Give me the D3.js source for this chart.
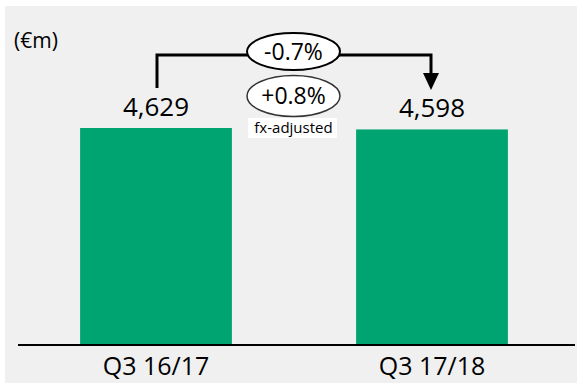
<!DOCTYPE html>
<html>
<head>
<meta charset="utf-8">
<script src="https://cdn.jsdelivr.net/npm/d3@7"></script>
<style>
  body { margin: 0; background: #fff; }
  text { font-family: "Open Sans", sans-serif; fill: #000; }
</style>
</head>
<body>
<div id="chart"></div>
<script>
// data
var categories = ["Q3 16/17", "Q3 17/18"];
var values = [4629, 4598];
var valueLabels = ["4,629", "4,598"];
var changeLabels = ["-0.7%", "+0.8%"];
var unitLabel = "(€m)";
var noteLabel = "fx-adjusted";

var width = 577, height = 383;
var svg = d3.select("#chart").append("svg")
    .attr("width", width)
    .attr("height", height);

// grey panel
svg.append("rect")
    .attr("x", 5).attr("y", 6)
    .attr("width", width - 5).attr("height", height - 6)
    .style("fill", "#f0f0f0");

var baseY = 344;
var x = d3.scaleBand()
    .domain(categories)
    .range([18, 570])
    .paddingInner(0.45)
    .paddingOuter(0.225);

var y = d3.scaleLinear()
    .domain([0, 4629])
    .range([baseY, 128]);

// bars
svg.append("g")
    .selectAll("rect")
    .data(values)
    .enter().append("rect")
    .attr("x", (d, i) => x(categories[i]))
    .attr("y", d => y(d))
    .attr("width", x.bandwidth())
    .attr("height", d => baseY - y(d))
    .style("fill", "#00a470");

// baseline
svg.append("line")
    .attr("x1", 18).attr("x2", 575)
    .attr("y1", baseY + 1).attr("y2", baseY + 1)
    .style("stroke", "#000")
    .style("stroke-width", 2);

// value labels
svg.append("g")
    .selectAll("text")
    .data(values)
    .enter().append("text")
    .attr("x", (d, i) => x(categories[i]) + x.bandwidth() / 2)
    .attr("y", d => y(d) - 12)
    .attr("text-anchor", "middle")
    .style("font-size", "26px")
    .text((d, i) => valueLabels[i]);

// category labels
svg.append("g")
    .selectAll("text")
    .data(categories)
    .enter().append("text")
    .attr("x", d => x(d) + x.bandwidth() / 2)
    .attr("y", 375)
    .attr("text-anchor", "middle")
    .style("font-size", "25px")
    .text(d => d);

// unit
svg.append("text")
    .attr("x", 14).attr("y", 48)
    .style("font-size", "21px")
    .text(unitLabel);

// arrow connector
var cx = 293.5;
var x1 = 157, x2 = 431, topY = 55;
svg.append("path")
    .attr("d", "M" + x1 + "," + 88 + "V" + topY + "H" + x2 + "V" + 76)
    .style("fill", "none")
    .style("stroke", "#000")
    .style("stroke-width", 3);
svg.append("path")
    .attr("d", "M" + (x2 - 8) + ",73L" + (x2 + 8) + ",73L" + x2 + ",90Z")
    .style("fill", "#000");

// change ellipses
var ellY = [51.5, 96];
var ellRy = [18.5, 20.5];
svg.append("g")
    .selectAll("ellipse")
    .data(changeLabels)
    .enter().append("ellipse")
    .attr("cx", cx)
    .attr("cy", (d, i) => ellY[i])
    .attr("rx", 46.5)
    .attr("ry", (d, i) => ellRy[i])
    .style("fill", "#fff")
    .style("stroke", (d, i) => i === 0 ? "#000" : "#333")
    .style("stroke-width", (d, i) => i === 0 ? 2 : 1.5);

svg.append("g")
    .selectAll("text")
    .data(changeLabels)
    .enter().append("text")
    .attr("x", cx)
    .attr("y", (d, i) => ellY[i] + 8)
    .attr("text-anchor", "middle")
    .style("font-size", "23px")
    .text(d => d);

// fx-adjusted note
svg.append("rect")
    .attr("x", 248).attr("y", 118)
    .attr("width", 89).attr("height", 20)
    .style("fill", "#fff");
svg.append("text")
    .attr("x", cx).attr("y", 133)
    .attr("text-anchor", "middle")
    .style("font-size", "15px")
    .text(noteLabel);
</script>
</body>
</html>
